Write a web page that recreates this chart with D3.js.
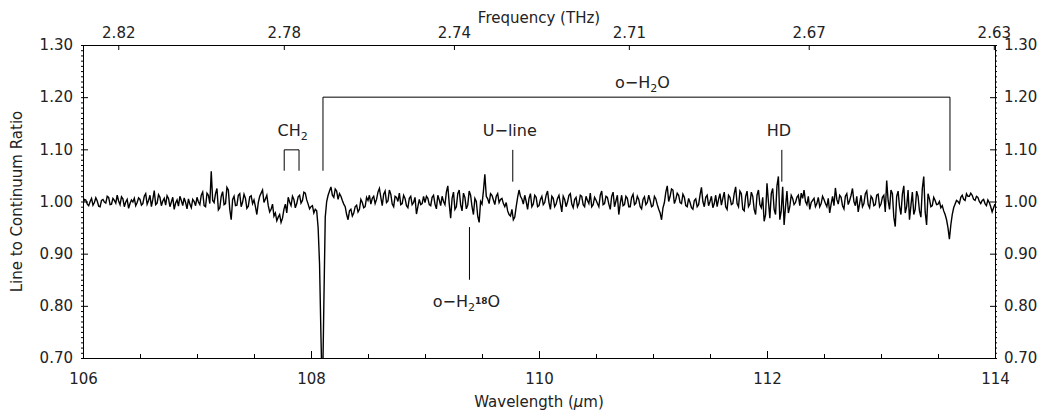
<html>
<head>
  <script src="https://d3js.org/d3.v7.min.js"></script>
  <style>
    body { margin: 0; background: #fff; }
    text { font-family: "DejaVu Sans", sans-serif; fill: #222; }
  </style>
</head>
<body>
<script>

W = 1048;
H = 413;

// line to continuum ratio, two interleaved samplings, each 0.025 micron apart
waveStart = 106
waveStep = 0.025
// samples at 106.000, 106.025, ... 114.000
ratioA = [
  0.996, 1.003, 0.992, 1.006, 0.998, 1.001, 0.990, 1.004, 0.997, 1.008, 0.995, 1.002, 1.012, 0.994, 1.005, 0.999, 0.987, 1.003, 1.006, 0.998,
  1.004, 0.996, 1.015, 1.002, 0.990, 1.021, 0.997, 1.008, 1.001, 0.993, 1.006, 0.999, 0.985, 1.003, 1.010, 0.992, 0.998, 1.005, 0.988, 1.000,
  1.008, 0.994, 1.018, 0.990, 1.012, 1.058, 0.998, 1.025, 0.988, 1.019, 0.996, 1.022, 0.965, 1.010, 0.993, 1.015, 0.999, 1.006, 0.991, 1.011,
  1.003, 0.975, 1.010, 1.022, 1.005, 0.992, 0.985, 0.972, 0.963, 0.975, 0.968, 0.995, 1.008, 0.992, 1.004, 0.996, 1.012, 1.002, 1.016, 0.995,
  0.990, 0.978, 0.982, 0.880, 0.620, 0.970, 1.012, 1.028, 1.008, 1.020, 1.015, 1.002, 0.990, 0.965, 0.985, 0.978, 0.993, 0.985, 0.998, 0.990,
  1.002, 0.995, 1.010, 1.004, 1.025, 0.992, 1.020, 1.001, 1.014, 0.990, 1.008, 1.016, 0.996, 1.006, 0.988, 1.010, 0.998, 0.976, 1.004, 0.996,
  0.998, 1.006, 0.992, 1.012, 0.986, 1.003, 1.010, 0.994, 1.030, 0.968, 1.018, 0.990, 1.022, 0.982, 1.008, 0.993, 1.012, 0.975, 1.000, 0.960,
  0.995, 1.052, 1.005, 1.015, 1.003, 1.010, 0.998, 1.006, 0.990, 0.982, 0.972, 0.965, 0.990, 1.022, 1.005, 1.012, 0.985, 1.015, 0.995, 1.008,
  0.992, 1.010, 0.998, 1.020, 0.985, 1.006, 0.995, 1.012, 0.980, 1.004, 0.999, 1.015, 0.988, 1.008, 0.996, 1.010, 0.990, 1.002, 1.016, 0.994,
  1.003, 0.990, 1.020, 0.996, 1.008, 0.985, 1.018, 1.001, 0.975, 1.012, 0.994, 1.006, 0.990, 1.014, 0.997, 1.004, 0.986, 1.009, 0.998, 1.002,
  0.992, 1.005, 0.985, 0.965, 0.998, 1.030, 1.010, 1.022, 1.004, 1.012, 0.996, 1.008, 0.990, 0.998, 0.985, 1.005, 0.994, 1.027, 0.990, 1.012,
  1.000, 0.988, 1.012, 1.004, 0.993, 1.018, 0.985, 1.008, 0.996, 1.028, 0.990, 1.015, 0.982, 1.020, 0.995, 1.010, 0.975, 1.022, 0.988, 0.962,
  1.035, 0.968, 1.025, 0.975, 1.048, 0.982, 0.955, 1.020, 0.990, 1.006, 0.998, 1.012, 1.016, 1.022, 0.994, 0.985, 1.002, 0.990, 1.008, 0.996,
  1.004, 0.990, 0.978, 1.010, 1.026, 0.995, 1.008, 0.986, 1.015, 1.002, 1.025, 0.992, 0.980, 1.012, 0.996, 1.020, 0.988, 1.006, 0.994, 1.014,
  0.995, 1.012, 1.040, 0.985, 1.015, 0.952, 1.020, 0.975, 1.030, 0.990, 0.965, 1.018, 0.985, 1.010, 0.970, 1.048, 0.955, 1.005, 0.992, 1.002,
  0.995, 0.988, 0.982, 0.965, 0.928, 0.975, 0.995, 1.000, 1.008, 1.004, 1.015, 1.010, 1.012, 1.002, 1.008, 0.996, 1.004, 0.992, 0.998, 0.980,
  0.995
]
// samples at 106.0125, 106.0375, ... 113.9875
ratioB = [
  1.004, 0.995, 1.000, 0.993, 1.007, 0.991, 1.002, 0.999, 1.010, 0.994, 1.006, 0.997, 1.001, 1.009, 0.990, 1.004, 0.996, 0.999, 0.992, 1.007,
  0.993, 1.010, 0.995, 1.012, 1.004, 0.994, 1.013, 0.992, 1.006, 1.011, 0.990, 1.008, 0.997, 0.991, 1.002, 1.007, 0.986, 0.995, 1.004, 0.992,
  0.999, 1.012, 0.992, 1.016, 0.996, 1.002, 1.015, 0.984, 1.010, 0.994, 1.027, 0.985, 1.004, 0.992, 1.012, 0.990, 1.014, 0.987, 1.009, 0.996,
  0.990, 0.998, 1.016, 0.998, 1.012, 0.980, 0.995, 0.978, 0.970, 0.960, 0.985, 0.978, 0.999, 1.010, 0.988, 1.009, 0.997, 1.018, 1.003, 0.986,
  0.992, 0.985, 0.950, 0.740, 0.800, 1.000, 1.020, 1.012, 1.024, 1.004, 1.010, 0.995, 0.975, 0.982, 0.972, 0.990, 0.980, 1.004, 0.988, 1.008,
  1.012, 1.006, 0.996, 1.018, 1.008, 1.014, 0.998, 1.022, 0.995, 1.010, 1.000, 0.994, 1.012, 0.992, 1.006, 0.994, 1.008, 0.990, 0.994, 1.010,
  1.010, 0.994, 1.008, 0.995, 1.012, 0.992, 1.000, 1.018, 0.996, 1.006, 0.985, 1.015, 0.994, 1.016, 0.986, 1.020, 0.990, 1.006, 0.972, 1.000,
  1.020, 1.010, 0.996, 1.012, 0.994, 1.015, 1.004, 0.996, 0.998, 0.975, 0.985, 0.970, 1.008, 1.010, 0.995, 1.000, 1.006, 0.990, 1.012, 0.990,
  1.004, 0.994, 1.012, 0.998, 1.010, 0.990, 1.006, 0.996, 1.010, 0.990, 1.012, 0.995, 1.004, 0.990, 1.012, 0.994, 1.010, 0.996, 0.990, 1.008,
  0.996, 1.012, 0.994, 1.010, 0.995, 1.010, 0.990, 1.012, 0.996, 0.992, 1.010, 0.990, 1.008, 0.994, 1.010, 0.990, 1.004, 0.994, 1.012, 0.990,
  1.010, 0.994, 0.978, 0.988, 1.018, 1.000, 1.024, 0.996, 1.016, 0.998, 1.014, 0.992, 1.006, 0.988, 1.002, 0.990, 1.012, 1.000, 1.008, 0.992,
  1.010, 0.996, 0.990, 1.015, 1.006, 0.990, 1.012, 0.994, 1.015, 0.996, 1.020, 0.985, 1.010, 0.990, 1.018, 0.985, 1.012, 0.994, 1.008, 0.975,
  1.000, 1.015, 0.985, 1.030, 0.965, 1.028, 0.990, 0.978, 1.012, 0.994, 1.008, 0.992, 1.006, 1.000, 1.010, 0.998, 1.006, 0.996, 0.990, 1.010,
  0.996, 1.006, 0.995, 0.992, 1.004, 1.012, 0.992, 1.010, 0.994, 1.012, 1.000, 1.010, 0.996, 0.990, 1.015, 0.994, 1.010, 0.992, 1.012, 0.990,
  1.008, 0.980, 1.002, 1.022, 0.970, 1.010, 0.990, 1.014, 0.978, 1.022, 0.992, 0.975, 1.020, 0.982, 1.025, 0.980, 1.015, 0.990, 1.008, 0.994,
  1.000, 0.992, 0.975, 0.950, 0.955, 0.988, 1.002, 0.996, 1.012, 1.002, 1.010, 1.016, 1.004, 1.010, 1.000, 1.002, 0.996, 1.003, 0.990, 0.988
]

waveTicks = [106, 108, 110, 112, 114]
ratioTicks = [0.70, 0.80, 0.90, 1.00, 1.10, 1.20, 1.30]
freqTicks = [2.820, 2.782, 2.744, 2.706, 2.668, 2.630]
cLight = 299.792458   // micron * THz

// line identifications (wavelength in micron)
h2oEnds = [108.105, 113.605]
ch2Ends = [107.765, 107.895]
markWaves = [109.77, 112.13]
markNames = ["U\u2212line", "HD"]
h2o18Wave = 109.39

spectrum = ratioA.map((v, i) => [waveStart + i * waveStep, v])
  .concat(ratioB.map((v, i) => [waveStart + waveStep / 2 + i * waveStep, v]))
  .sort((a, b) => a[0] - b[0])

margin = {left: 83, right: 53, top: 45, bottom: 55}

x = d3.scaleLinear().domain([106, 114]).range([margin.left, W - margin.right])
y = d3.scaleLinear().domain([0.70, 1.30]).range([H - margin.bottom, margin.top])

svg = d3.select("body").append("svg")
  .attr("width", W)
  .attr("height", H)

svg.append("clipPath").attr("id", "plotclip")
  .append("rect")
  .attr("x", x(106)).attr("y", y(1.30))
  .attr("width", x(114) - x(106)).attr("height", y(0.70) - y(1.30))

// spectrum
line = d3.line()
  .x(d => x(d[0]))
  .y(d => y(d[1]))

svg.append("path")
  .datum(spectrum)
  .attr("clip-path", "url(#plotclip)")
  .attr("d", line)
  .attr("fill", "none")
  .attr("stroke", "#000")
  .attr("stroke-width", 1.4)

// axes
fmt2 = d3.format(".2f")

function styleAxis(g) {
  g.select(".domain").attr("stroke", "#000")
  g.selectAll(".tick line").attr("stroke", "#000")
  g.selectAll(".tick text").style("font-size", "15px").attr("fill", "#222")
}

// bottom: wavelength
svg.append("g")
  .attr("transform", "translate(0," + y(0.70) + ")")
  .call(d3.axisBottom(x).tickValues(d3.range(106.5, 114, 0.5).filter(v => v % 2 != 0)).tickSize(-4).tickFormat(""))
  .call(g => g.select(".domain").remove())
  .call(styleAxis)
svg.append("g")
  .attr("transform", "translate(0," + y(0.70) + ")")
  .call(d3.axisBottom(x).tickValues(waveTicks).tickSize(-7).tickPadding(15).tickFormat(d3.format("d")))
  .call(styleAxis)

// top: frequency
svg.append("g")
  .attr("transform", "translate(0," + y(1.30) + ")")
  .call(d3.axisTop(x).tickValues(freqTicks.map(f => cLight / f)).tickSize(-5).tickPadding(7)
    .tickFormat(l => fmt2(cLight / l)))
  .call(styleAxis)

// left and right: ratio
minorRatio = d3.range(70, 131).map(v => v / 100)
;[["left", x(106)], ["right", x(114)]].forEach(function(side) {
  var mk = side[0] == "left" ? d3.axisLeft : d3.axisRight
  svg.append("g")
    .attr("transform", "translate(" + side[1] + ",0)")
    .call(mk(y).tickValues(minorRatio).tickSize(2).tickFormat(""))
    .call(g => g.select(".domain").remove())
    .call(styleAxis)
  svg.append("g")
    .attr("transform", "translate(" + side[1] + ",0)")
    .call(mk(y).tickValues(ratioTicks).tickSize(-5).tickPadding(side[0] == "left" ? 10 : 9).tickFormat(fmt2))
    .call(styleAxis)
})

// axis titles
svg.append("text")
  .attr("x", (x(106) + x(114)) / 2)
  .attr("y", 23)
  .attr("text-anchor", "middle")
  .style("font-size", "15px")
  .text("Frequency (THz)")

wl = svg.append("text")
  .attr("x", (x(106) + x(114)) / 2)
  .attr("y", 407)
  .attr("text-anchor", "middle")
  .style("font-size", "15px")
wl.append("tspan").text("Wavelength (")
wl.append("tspan").style("font-style", "italic").text("\u03bc")
wl.append("tspan").text("m)")

svg.append("text")
  .attr("transform", "translate(22," + (y(0.70) + y(1.30)) / 2 + ") rotate(-90)")
  .attr("text-anchor", "middle")
  .style("font-size", "15px")
  .text("Line to Continuum Ratio")

// annotations
ann = svg.append("g")
  .attr("fill", "none")
  .attr("stroke", "#000")
  .attr("stroke-width", 1)

ann.append("path")
  .attr("d", d3.line()([
    [x(h2oEnds[0]), y(1.059)], [x(h2oEnds[0]), y(1.20)],
    [x(h2oEnds[1]), y(1.20)], [x(h2oEnds[1]), y(1.059)]]))

ann.append("path")
  .attr("d", d3.line()([
    [x(ch2Ends[0]), y(1.059)], [x(ch2Ends[0]), y(1.099)],
    [x(ch2Ends[1]), y(1.099)], [x(ch2Ends[1]), y(1.059)]]))

ann.selectAll("line.mark")
  .data(markWaves)
  .enter().append("line")
  .attr("class", "mark")
  .attr("x1", d => x(d)).attr("x2", d => x(d))
  .attr("y1", y(1.099)).attr("y2", y(1.038))

ann.append("line")
  .attr("x1", x(h2o18Wave)).attr("x2", x(h2o18Wave))
  .attr("y1", y(0.951)).attr("y2", y(0.85))

function chemLabel(cx, cy, parts) {
  var t = svg.append("text")
    .attr("x", cx).attr("y", cy)
    .attr("text-anchor", "middle")
    .style("font-size", "16px")
  parts.forEach(function(p) {
    var s = t.append("tspan").text(p[0])
    if (p[1] == "sub") s.attr("dy", 4).style("font-size", "11px")
    else if (p[1] == "sup") s.attr("dy", -7).style("font-size", "9px").style("font-weight", "bold")
    else if (p[1] == "back") s.attr("dy", -4)
    else if (p[1] == "back2") s.attr("dy", 3)
  })
  return t
}

chemLabel((x(h2oEnds[0]) + x(h2oEnds[1])) / 2 + 6, 88, [["o\u2212H"], ["2", "sub"], ["O", "back"]])
chemLabel((x(ch2Ends[0]) + x(ch2Ends[1])) / 2 + 1, 136, [["CH"], ["2", "sub"]])
markNames.forEach(function(n, i) {
  chemLabel(x(markWaves[i]) - 3, 136, [[n]])
})
chemLabel(x(h2o18Wave) - 3, 307, [["o\u2212H"], ["2", "sub"], ["18", "sup"], ["O", "back2"]])

</script>
</body>
</html>
